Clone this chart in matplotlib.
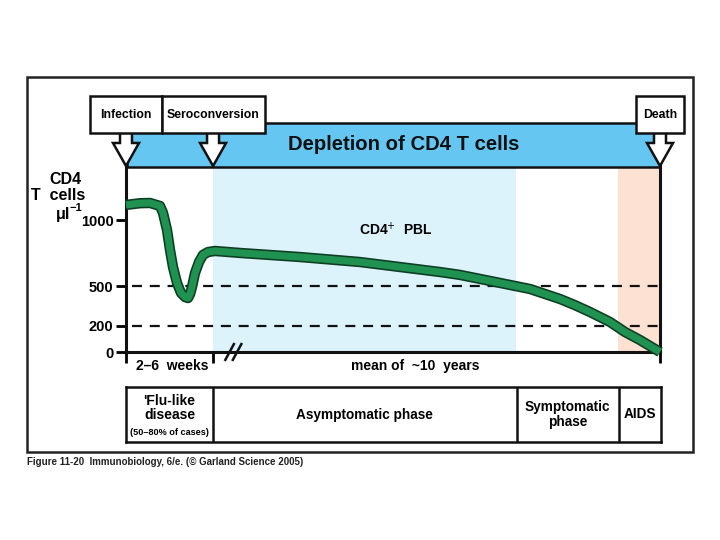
import matplotlib
matplotlib.use("Agg")
import matplotlib.pyplot as plt
from matplotlib.patches import Rectangle, Polygon
import numpy as np

plt.rcParams['font.family'] = ['Liberation Sans', 'DejaVu Sans']

# ---------------- data ----------------
# time position (0 = infection, 100 = death), CD4 T cells per microlitre
time_pos = [0, 2.62, 4.49, 6.37, 6.93, 7.68, 8.24, 8.80, 9.55, 10.30, 11.05, 11.61,
            11.99, 12.36, 12.92, 13.67, 14.42, 15.36, 16.67, 21.35, 32.58, 43.82,
            51.31, 58.80, 62.55, 70.04, 72.85, 75.66, 78.46, 81.27, 84.08, 86.89,
            90.64, 93.45, 96.25, 100]
cd4_counts = [1118, 1131, 1133, 1110, 1057, 928, 776, 646, 525, 449, 418, 410,
              440, 494, 600, 684, 738, 760, 768, 753, 722, 684,
              646, 608, 586, 525, 502, 479, 441, 403, 356, 304,
              228, 152, 91, 0]
y_ticks = [0, 200, 500, 1000]
thresholds = [500, 200]
# phase boundaries on time axis
phase_edges = [0, 16.3, 73.0, 92.1, 100]
phase_labels = ["'Flu-like\ndisease", "Asymptomatic phase", "Symptomatic\nphase", "AIDS"]
events = ["Infection", "Seroconversion", "Death"]
event_pos = [0, 16.3, 100]

W, H = 720, 540
fig = plt.figure(figsize=(7.2, 5.4), dpi=100)

def fr(x0, y0, x1, y1):
    return [x0 / W, 1 - y1 / H, (x1 - x0) / W, (y1 - y0) / H]

# ---------------- main axes ----------------
ax = fig.add_axes(fr(126, 166, 660, 352))
ax.set_xlim(0, 100)
ax.set_ylim(0, 1414)
ax.patch.set_alpha(0)
ax.axvspan(phase_edges[1], phase_edges[2], color='#ddf3fb', zorder=0, lw=0)
ax.axvspan(phase_edges[3], phase_edges[4], color='#fde1d3', zorder=0, lw=0)
for t in thresholds:
    ax.axhline(t, xmin=0.012, color='#111111', lw=1.6, dashes=(4.5, 3.5), zorder=1)
ax.plot(time_pos, cd4_counts, color='#0d3d22', lw=7.5, solid_joinstyle='round',
        solid_capstyle='butt', zorder=3, clip_on=False)
ax.plot(time_pos, cd4_counts, color='#1f9150', lw=5.2, solid_joinstyle='round',
        solid_capstyle='butt', zorder=4, clip_on=False)

ax.spines['top'].set_visible(False)
for s in ['left', 'bottom', 'right']:
    ax.spines[s].set_linewidth(2.2)
    ax.spines[s].set_color('#111111')
ax.set_yticks(y_ticks)
ax.set_yticklabels([str(v) for v in y_ticks], fontsize=10.5, fontweight='bold')
ax.tick_params(axis='y', direction='out', length=7, width=2, pad=2)
ax.set_xticks([phase_edges[0], phase_edges[1], phase_edges[4]])
ax.set_xticklabels([])
ax.tick_params(axis='x', direction='out', length=8, width=2)

ax.text(8.6, -0.075, "2–6  weeks", transform=ax.get_xaxis_transform(), ha='center',
        va='center', fontsize=10, fontweight='bold')
ax.text(54.1, -0.075, "mean of  ~10  years", transform=ax.get_xaxis_transform(),
        ha='center', va='center', fontsize=10, fontweight='bold')
ax.text(50.5, 0.66, "CD4$^{+}$  PBL", transform=ax.get_xaxis_transform(), ha='center',
        va='center', fontsize=10, fontweight='bold')
# axis break
for dx in [0, 1.4]:
    ax.plot([18.6 + dx, 20.2 + dx], [-60, 60], color='#111111', lw=1.8, clip_on=False, zorder=5)

# ---------------- phase table ----------------
tb = fig.add_axes(fr(126, 387, 661, 442))
tb.set_xlim(0, 100)
tb.set_ylim(0, 1)
tb.set_xticks([])
tb.set_yticks([])
for s in tb.spines.values():
    s.set_linewidth(1.8)
    s.set_color('#111111')
for e in phase_edges[1:-1]:
    tb.axvline(e, color='#111111', lw=1.8)
mids = [(a + b) / 2 for a, b in zip(phase_edges[:-1], phase_edges[1:])]
tb.text(mids[0], 0.62, phase_labels[0], ha='center', va='center', fontsize=10,
        fontweight='bold', linespacing=1.0)
tb.text(mids[0], 0.18, "(50–80% of cases)", ha='center', va='center', fontsize=6.6,
        fontweight='bold')
for m, lab in zip(mids[1:], phase_labels[1:]):
    tb.text(m, 0.5, lab, ha='center', va='center', fontsize=9.8, fontweight='bold',
            linespacing=1.1)

# ---------------- overlay (decorations) ----------------
ov = fig.add_axes([0, 0, 1, 1], zorder=10)
ov.set_xlim(0, W)
ov.set_ylim(H, 0)
ov.axis('off')
ov.patch.set_alpha(0)

ov.add_patch(Rectangle((27, 77), 666, 375, fill=False, lw=1.8, ec='#222222'))
# banner
ov.add_patch(Rectangle((127, 123), 533, 44, fc='#66c6f2', ec='#111111', lw=1.8))
ov.text(404, 145, "Depletion of CD4 T cells", ha='center', va='center', fontsize=14.6,
        fontweight='bold', color='#111111')

def arrow(xc):
    pts = [(xc - 6, 132), (xc + 6, 132), (xc + 6, 143), (xc + 13, 143), (xc, 166),
           (xc - 13, 143), (xc - 6, 143)]
    ov.add_patch(Polygon(pts, closed=True, fc='white', ec='#111111', lw=1.8, joinstyle='miter'))

ax_x0, ax_x1 = 126, 660
for name, p in zip(events, event_pos):
    arrow(ax_x0 + (ax_x1 - ax_x0) * p / 100)

boxes = [(90, 162), (162, 265), (636, 684)]
for (x0, x1), name in zip(boxes, events):
    ov.add_patch(Rectangle((x0, 96), x1 - x0, 37, fc='white', ec='#111111', lw=1.8))
    ov.text((x0 + x1) / 2, 115, name, ha='center', va='center', fontsize=8.8,
            fontweight='bold')

# y label
ov.text(65, 179, "CD4", ha='center', va='center', fontsize=11.5, fontweight='bold')
ov.text(58, 196, "T  cells", ha='center', va='center', fontsize=11.5, fontweight='bold')
ov.text(70, 215, "μl", ha='right', va='center', fontsize=11.5, fontweight='bold')
ov.text(70, 208, "−1", ha='left', va='center', fontsize=8, fontweight='bold')

ov.text(27, 462, "Figure 11-20  Immunobiology, 6/e. (© Garland Science 2005)", ha='left',
        va='center', fontsize=7.0, fontweight='bold', color='#222222')

fig.savefig("out.png", dpi=100)
